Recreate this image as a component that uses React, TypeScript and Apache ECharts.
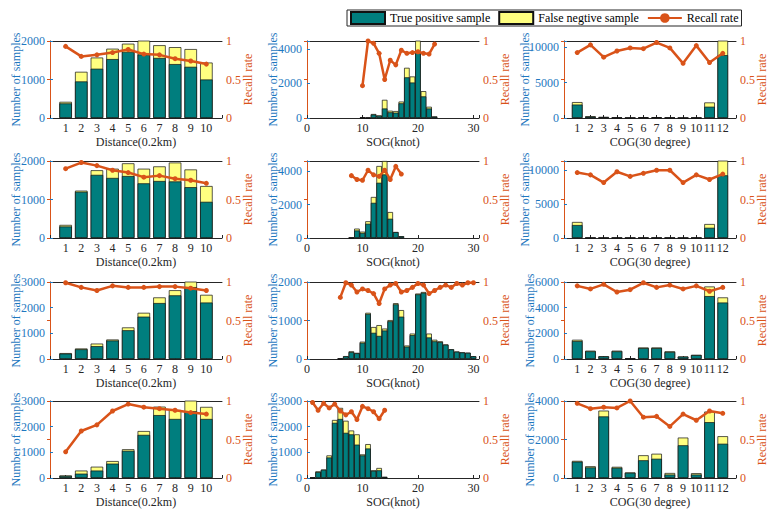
import React, { useEffect, useRef } from "react";
import * as echarts from "echarts";

// ---------- categories ----------
const distanceX = [1, 2, 3, 4, 5, 6, 7, 8, 9, 10];
const cogX = [1, 2, 3, 4, 5, 6, 7, 8, 9, 10, 11, 12];
const distanceTicks = ["1", "2", "3", "4", "5", "6", "7", "8", "9", "10"];
const cogTicks = ["1", "2", "3", "4", "5", "6", "7", "8", "9", "10", "11", "12"];
const sogTicks = ["0", "10", "20", "30"];

// ---------- row 1 ----------
const d1TP = [380, 950, 1280, 1530, 1720, 1650, 1560, 1400, 1330, 1000];
const d1FN = [40, 250, 290, 270, 210, 430, 330, 440, 460, 440];
const d1Recall = [0.93, 0.8, 0.82, 0.85, 0.89, 0.83, 0.82, 0.77, 0.74, 0.7];

const s1X = [10, 11, 12, 13, 14, 15, 16, 17, 18, 19, 20, 21, 22, 23];
const s1TP = [30, 10, 200, 130, 550, 330, 310, 850, 2350, 2050, 3800, 1250, 550, 80];
const s1FN = [0, 0, 30, 20, 500, 90, 90, 100, 550, 350, 700, 300, 100, 10];
const s1Recall = [0.42, 1.0, 0.97, 0.84, 0.5, 0.75, 0.69, 0.88, 0.84, 0.85, 0.86, 0.84, 0.83, 0.96];

const c1TP = [1900, 200, 130, 50, 20, 80, 100, 40, 10, 30, 1600, 8900];
const c1FN = [350, 50, 30, 5, 3, 10, 15, 5, 2, 5, 600, 2200];
const c1Recall = [0.85, 0.95, 0.79, 0.87, 0.91, 0.9, 0.98, 0.91, 0.71, 0.94, 0.72, 0.84];

// ---------- row 2 ----------
const d2TP = [300, 1200, 1640, 1560, 1610, 1420, 1480, 1470, 1320, 940];
const d2FN = [40, 30, 120, 240, 330, 380, 380, 490, 460, 410];
const d2Recall = [0.9, 0.98, 0.94, 0.88, 0.85, 0.79, 0.81, 0.77, 0.75, 0.71];

const s2X = [8, 9, 10, 11, 12, 13, 14, 15, 16, 17];
const s2TP = [20, 450, 300, 850, 2100, 3300, 3800, 1150, 350, 100];
const s2FN = [0, 110, 80, 150, 350, 1000, 800, 400, 10, 10];
const s2Recall = [0.81, 0.76, 0.75, 0.88, 0.82, 0.8, 0.88, 0.76, 0.93, 0.83];

const c2TP = [1900, 20, 15, 20, 15, 20, 25, 20, 10, 20, 1500, 9200];
const c2FN = [450, 3, 2, 3, 2, 3, 3, 3, 2, 3, 550, 2500];
const c2Recall = [0.85, 0.82, 0.72, 0.86, 0.8, 0.84, 0.88, 0.88, 0.72, 0.82, 0.76, 0.83];

// ---------- row 3 ----------
const d3TP = [210, 380, 500, 720, 1120, 1650, 2180, 2480, 2800, 2200];
const d3FN = [20, 30, 100, 40, 110, 150, 220, 200, 300, 300];
const d3Recall = [0.99, 0.93, 0.89, 0.95, 0.93, 0.93, 0.94, 0.94, 0.92, 0.89];

const s3X = [6, 7, 8, 9, 10, 11, 12, 13, 14, 15, 16, 17, 18, 19, 20, 21, 22, 23, 24, 25, 26, 27, 28, 29, 30];
const s3TP = [10, 70, 180, 150, 420, 1170, 680, 600, 740, 980, 1420, 1100, 320, 620, 1680, 1720, 560, 460, 440, 370, 250, 190, 170, 160, 70];
const s3FN = [0, 5, 20, 10, 30, 30, 150, 280, 50, 30, 30, 170, 30, 40, 20, 20, 100, 40, 20, 10, 5, 5, 5, 5, 3];
const s3Recall = [0.8, 0.99, 0.96, 0.87, 0.91, 0.89, 0.85, 0.72, 0.91, 0.96, 0.98, 0.87, 0.89, 0.93, 0.98, 0.96, 0.85, 0.89, 0.93, 0.96, 0.93, 0.98, 0.96, 0.99, 0.99];

const c3TP = [1400, 600, 200, 600, 30, 850, 850, 550, 180, 300, 4900, 4400];
const c3FN = [100, 50, 20, 50, 3, 50, 50, 50, 20, 30, 750, 400];
const c3Recall = [0.95, 0.91, 0.97, 0.87, 0.9, 0.99, 0.93, 0.96, 0.91, 0.95, 0.88, 0.93];

// ---------- row 4 ----------
const d4TP = [80, 170, 290, 560, 1060, 1680, 2450, 2300, 2600, 2300];
const d4FN = [20, 120, 150, 100, 60, 150, 330, 350, 500, 470];
const d4Recall = [0.34, 0.61, 0.69, 0.87, 0.96, 0.92, 0.9, 0.88, 0.85, 0.83];

const s4X = [1, 2, 3, 4, 5, 6, 7, 8, 9, 10, 11, 12, 13, 14];
const s4TP = [20, 230, 320, 800, 2150, 2300, 1760, 1700, 1300, 880, 1150, 280, 300, 40];
const s4FN = [0, 30, 10, 80, 110, 430, 470, 150, 400, 40, 170, 20, 90, 5];
const s4Recall = [0.98, 0.88, 0.97, 0.91, 0.96, 0.87, 0.82, 0.86, 0.76, 0.93, 0.9, 0.86, 0.77, 0.88];

const c4TP = [850, 550, 3200, 530, 270, 920, 1000, 180, 1700, 180, 2900, 1780];
const c4FN = [40, 60, 300, 50, 20, 260, 260, 80, 400, 70, 550, 390];
const c4Recall = [0.97, 0.9, 0.92, 0.91, 1.0, 0.79, 0.8, 0.67, 0.83, 0.75, 0.87, 0.84];

// ---------- left axis limits per panel ----------
const yMaxes = [2000, 4450, 10900, 2000, 4600, 11300, 3000, 2000, 6000, 3000, 3000, 4000];
const yIntervals = [1000, 2000, 5000, 1000, 2000, 5000, 1000, 1000, 2000, 1000, 1000, 2000];

const recallTicks = ["0", "0.5", "1"];

type Kind = "dist" | "sog" | "cog";
const panels: { kind: Kind; x: number[]; tp: number[]; fn: number[]; rc: number[] }[] = [
  { kind: "dist", x: distanceX, tp: d1TP, fn: d1FN, rc: d1Recall },
  { kind: "sog", x: s1X, tp: s1TP, fn: s1FN, rc: s1Recall },
  { kind: "cog", x: cogX, tp: c1TP, fn: c1FN, rc: c1Recall },
  { kind: "dist", x: distanceX, tp: d2TP, fn: d2FN, rc: d2Recall },
  { kind: "sog", x: s2X, tp: s2TP, fn: s2FN, rc: s2Recall },
  { kind: "cog", x: cogX, tp: c2TP, fn: c2FN, rc: c2Recall },
  { kind: "dist", x: distanceX, tp: d3TP, fn: d3FN, rc: d3Recall },
  { kind: "sog", x: s3X, tp: s3TP, fn: s3FN, rc: s3Recall },
  { kind: "cog", x: cogX, tp: c3TP, fn: c3FN, rc: c3Recall },
  { kind: "dist", x: distanceX, tp: d4TP, fn: d4FN, rc: d4Recall },
  { kind: "sog", x: s4X, tp: s4TP, fn: s4FN, rc: s4Recall },
  { kind: "cog", x: cogX, tp: c4TP, fn: c4FN, rc: c4Recall },
];

const FONT = "Liberation Serif";
const BLUE = "#1f78c0";
const ORANGE = "#D95319";
const DARK = "#262626";
const TEAL = "#007E7E";
const YELLOW = "#FFFF80";

const colLeft = [50, 307, 564];
const rowTop = [41, 161, 282, 401];
const W = 172;
const H = 77;

const xConf: Record<Kind, { min: number; max: number; interval: number; ticks: string[]; name: string; barWidth: string }> = {
  dist: { min: 0, max: 11, interval: 1, ticks: distanceTicks, name: "Distance(0.2km)", barWidth: "80%" },
  sog: { min: 0, max: 31, interval: 10, ticks: sogTicks, name: "SOG(knot)", barWidth: "100%" },
  cog: { min: 0, max: 13, interval: 1, ticks: cogTicks, name: "COG(30 degree)", barWidth: "80%" },
};

function buildOption() {
  const grid: any[] = [];
  const xAxis: any[] = [];
  const yAxis: any[] = [];
  const series: any[] = [];

  panels.forEach((p, i) => {
    const c = xConf[p.kind];
    grid.push({ left: colLeft[i % 3], top: rowTop[Math.floor(i / 3)], width: W, height: H });
    xAxis.push({
      type: "value",
      gridIndex: i,
      min: c.min,
      max: c.max,
      interval: c.interval,
      position: "bottom",
      name: c.name,
      nameLocation: "middle",
      nameGap: 18,
      nameTextStyle: { fontFamily: FONT, fontSize: 12, color: DARK },
      axisLine: { show: true, onZero: false, lineStyle: { color: DARK, width: 1 } },
      axisTick: { show: true, inside: true, length: 3, lineStyle: { color: DARK } },
      axisLabel: {
        fontFamily: FONT,
        fontSize: 12,
        color: DARK,
        margin: 4,
        formatter: (v: number) => (c.ticks.indexOf(String(v)) >= 0 ? String(v) : ""),
      },
      splitLine: { show: false },
    });
    xAxis.push({
      type: "value",
      gridIndex: i,
      min: c.min,
      max: c.max,
      position: "top",
      axisLine: { show: true, onZero: false, lineStyle: { color: DARK, width: 1 } },
      axisTick: { show: false },
      axisLabel: { show: false },
      splitLine: { show: false },
    });
    const yMax = yMaxes[i];
    const yInt = yIntervals[i];
    const wide = String(yMax).length > 4;
    yAxis.push({
      type: "value",
      gridIndex: i,
      min: 0,
      max: yMax,
      interval: yInt,
      position: "left",
      name: "Number of samples",
      nameLocation: "middle",
      nameGap: wide ? 33 : 28,
      nameMoveOverlap: false,
      nameTextStyle: { fontFamily: FONT, fontSize: 12, color: BLUE },
      axisLine: { show: true, lineStyle: { color: BLUE, width: 1 } },
      axisTick: { show: true, inside: true, length: 3, lineStyle: { color: BLUE } },
      axisLabel: {
        fontFamily: FONT,
        fontSize: 12,
        color: BLUE,
        margin: 5,
        formatter: (v: number) => (v % yInt === 0 ? String(v) : ""),
      },
      splitLine: { show: false },
    });
    yAxis.push({
      type: "value",
      gridIndex: i,
      min: 0,
      max: 1,
      interval: 0.5,
      position: "right",
      name: "Recall rate",
      nameLocation: "middle",
      nameGap: 20,
      nameMoveOverlap: false,
      nameTextStyle: { fontFamily: FONT, fontSize: 12, color: ORANGE },
      axisLine: { show: true, lineStyle: { color: ORANGE, width: 1 } },
      axisTick: { show: true, inside: true, length: 3, lineStyle: { color: ORANGE } },
      axisLabel: {
        fontFamily: FONT,
        fontSize: 12,
        color: ORANGE,
        margin: 4,
        formatter: (v: number) => (recallTicks.indexOf(String(v)) >= 0 ? String(v) : ""),
      },
      splitLine: { show: false },
    });

    const xA = i * 2;
    const yA = i * 2;
    // Full column (true positive + false negative) drawn in yellow, true-positive part overlaid in teal
    series.push({
      type: "bar",
      name: "False negtive sample",
      xAxisIndex: xA,
      yAxisIndex: yA,
      barWidth: c.barWidth,
      barGap: "-100%",
      itemStyle: { color: YELLOW, borderColor: "#111", borderWidth: 0.7 },
      data: p.x.map((x, k) => [x, p.tp[k] + p.fn[k]]),
    });
    series.push({
      type: "bar",
      name: "True positive sample",
      xAxisIndex: xA,
      yAxisIndex: yA,
      barWidth: c.barWidth,
      barGap: "-100%",
      itemStyle: { color: TEAL, borderColor: "#111", borderWidth: 0.7 },
      data: p.x.map((x, k) => [x, p.tp[k]]),
    });
    series.push({
      type: "line",
      name: "Recall rate",
      xAxisIndex: xA,
      yAxisIndex: yA + 1,
      symbol: "circle",
      symbolSize: 5,
      showSymbol: true,
      z: 5,
      itemStyle: { color: ORANGE },
      lineStyle: { color: ORANGE, width: 2.5 },
      data: p.x.map((x, k) => [x, p.rc[k]]),
    });
  });

  return {
    animation: false,
    backgroundColor: "#ffffff",
    textStyle: { fontFamily: FONT },
    legend: {
      left: 347,
      top: 10,
      orient: "horizontal",
      padding: [1, 3],
      itemGap: 8,
      itemWidth: 34,
      itemHeight: 12,
      borderColor: DARK,
      borderWidth: 1,
      backgroundColor: "#fff",
      textStyle: { fontFamily: FONT, fontSize: 12, color: "#000" },
      data: [
        { name: "True positive sample", icon: "rect" },
        { name: "False negtive sample", icon: "rect" },
        { name: "Recall rate" },
      ],
    },
    grid,
    xAxis,
    yAxis,
    series,
  };
}

export default function App() {
  const ref = useRef<HTMLDivElement>(null);
  useEffect(() => {
    document.body.style.margin = "0";
    if (!ref.current) return;
    const chart = echarts.init(ref.current, undefined, { renderer: "svg" });
    chart.setOption(buildOption() as any);
    return () => chart.dispose();
  }, []);
  return <div ref={ref} style={{ width: 781, height: 518 }} />;
}
